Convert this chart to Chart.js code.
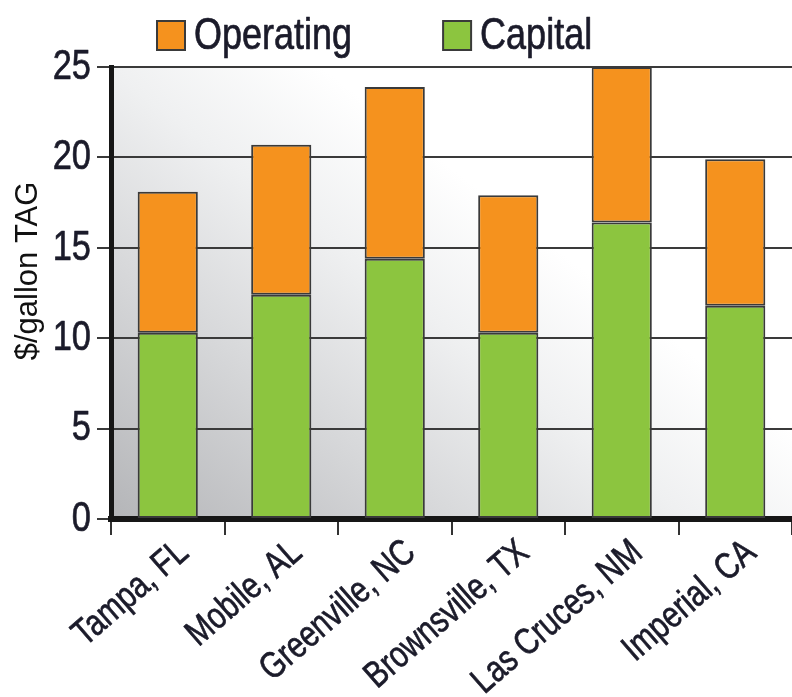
<!DOCTYPE html>
<html>
<head>
<meta charset="utf-8">
<script src="https://cdn.jsdelivr.net/npm/chart.js@4.4.1/dist/chart.umd.min.js"></script>
<style>
  html, body { margin: 0; padding: 0; background: #ffffff; }
  #wrap { width: 792px; height: 697px; }
</style>
</head>
<body>
<div id="wrap"><canvas id="chart" width="792" height="697"></canvas></div>
<script>
// Production cost per gallon of TAG by site
const sites = ['Tampa, FL', 'Mobile, AL', 'Greenville, NC', 'Brownsville, TX', 'Las Cruces, NM', 'Imperial, CA'];
const capital = [10.3, 12.4, 14.4, 10.3, 16.4, 11.8];
const operating = [7.8, 8.3, 9.5, 7.6, 8.6, 8.1];
const yTicks = [0, 5, 10, 15, 20, 25];
const yTitle = '$/gallon TAG';

// Narrow face: Liberation Sans compressed horizontally when drawn
const narrow = "'Liberation Sans Narrow', 'Liberation Sans', Arial, sans-serif";
const NARROW_X = 0.8;
const inkColor = '#1b1b2a';
const orange = '#f5921e';
const green = '#8cc53f';
const edge = '#3a3a3a';

const baseFillText = CanvasRenderingContext2D.prototype.fillText;
CanvasRenderingContext2D.prototype.fillText = function (text, x, y, maxWidth) {
  if (String(this.font).indexOf('Narrow') === -1) {
    return maxWidth === undefined ? baseFillText.call(this, text, x, y) : baseFillText.call(this, text, x, y, maxWidth);
  }
  this.save();
  this.translate(x, y);
  this.scale(NARROW_X, 1);
  baseFillText.call(this, text, 0, 0);
  // a touch more weight for the condensed glyphs
  this.strokeStyle = this.fillStyle;
  this.lineWidth = 0.7;
  this.lineJoin = 'round';
  this.strokeText(text, 0, 0);
  this.restore();
};

// Shaded plot background: grey at lower left fading to white at upper right
const plotShade = {
  id: 'plotShade',
  beforeDraw(chart) {
    const { ctx, chartArea: a } = chart;
    const g = ctx.createLinearGradient(a.left, a.bottom, a.left + 350, a.top);
    g.addColorStop(0, '#b4b5b8');
    g.addColorStop(0.36, '#d7d8da');
    g.addColorStop(0.62, '#eff0f1');
    g.addColorStop(0.85, '#ffffff');
    g.addColorStop(1, '#ffffff');
    ctx.save();
    ctx.fillStyle = g;
    ctx.fillRect(a.left, a.top, a.right - a.left, a.bottom - a.top);
    ctx.restore();
  }
};

// Legend row (Operating, then Capital) and the vertical axis title
const chartText = {
  id: 'chartText',
  afterDraw(chart) {
    const { ctx } = chart;
    const items = chart.data.datasets.slice().reverse();
    let x = 157;
    const boxTop = 21, box = 29;
    ctx.save();
    ctx.font = '45px ' + narrow;
    ctx.textBaseline = 'alphabetic';
    ctx.textAlign = 'left';
    items.forEach(ds => {
      ctx.fillStyle = ds.backgroundColor;
      ctx.fillRect(x, boxTop, box - 1, box);
      ctx.lineWidth = 2;
      ctx.strokeStyle = edge;
      ctx.strokeRect(x, boxTop, box - 1, box);
      ctx.fillStyle = inkColor;
      const tx = x + box + 8;
      ctx.fillText(ds.label, tx, 49);
      x = tx + ctx.measureText(ds.label).width * NARROW_X + 91;
    });

    ctx.font = "31px 'Liberation Sans', Arial, sans-serif";
    ctx.fillStyle = '#111111';
    ctx.textAlign = 'center';
    ctx.textBaseline = 'middle';
    ctx.translate(28, 271);
    ctx.rotate(-Math.PI / 2);
    ctx.fillText(yTitle, 0, 0);
    ctx.restore();
  }
};

new Chart(document.getElementById('chart'), {
  type: 'bar',
  data: {
    labels: sites,
    datasets: [
      {
        label: 'Capital',
        data: capital,
        backgroundColor: green,
        borderColor: edge,
        borderWidth: 2,
        borderSkipped: false
      },
      {
        label: 'Operating',
        data: operating,
        backgroundColor: orange,
        borderColor: edge,
        borderWidth: 2,
        borderSkipped: false
      }
    ]
  },
  options: {
    responsive: false,
    animation: false,
    devicePixelRatio: 1,
    layout: { padding: { top: 67, left: 0, right: 0, bottom: 0 } },
    datasets: { bar: { categoryPercentage: 1.0, barPercentage: 0.53 } },
    plugins: {
      legend: { display: false },
      tooltip: { enabled: false }
    },
    scales: {
      x: {
        stacked: true,
        afterFit(s) { s.height = 178; },
        grid: {
          drawOnChartArea: false,
          drawTicks: true,
          tickLength: 16,
          color: '#333333',
          lineWidth: 2,
          offset: true
        },
        border: { display: true, color: '#161616', width: 6 },
        ticks: {
          color: inkColor,
          font: { family: narrow, size: 37 },
          minRotation: 41,
          maxRotation: 41,
          autoSkip: false,
          labelOffset: 16,
          padding: -4
        }
      },
      y: {
        stacked: true,
        min: 0,
        max: 25,
        afterFit(s) { s.width = 111; },
        afterBuildTicks(s) { s.ticks = yTicks.map(v => ({ value: v })); },
        grid: {
          color: '#3a3a3a',
          lineWidth: 2,
          drawTicks: true,
          tickLength: 14
        },
        border: { display: true, color: '#161616', width: 5 },
        ticks: {
          color: inkColor,
          font: { family: narrow, size: 43 },
          padding: 6
        }
      }
    }
  },
  plugins: [plotShade, chartText]
});
</script>
</body>
</html>
